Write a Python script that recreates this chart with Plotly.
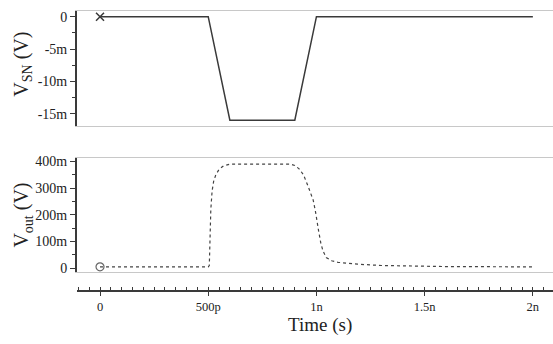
import plotly.graph_objects as go

W, H = 553, 344

# time in ns
t_sn = [0, 0.5, 0.6, 0.9, 1.0, 2.0]
v_sn = [0, 0, -16, -16, 0, 0]  # mV

t_out = [0, 0.5, 0.505, 0.508, 0.512, 0.518, 0.525, 0.535, 0.55, 0.57, 0.6,
         0.88, 0.90, 0.92, 0.94, 0.96, 0.975, 0.985, 0.995, 1.0, 1.01, 1.02,
         1.03, 1.045, 1.07, 1.1, 1.19, 1.3, 1.45, 1.6, 2.0]
v_out = [5, 5, 10, 100, 220, 290, 325, 350, 370, 383, 390,
         390, 385, 372, 350, 310, 275, 255, 215, 187, 140, 95,
         65, 40, 28, 22, 15, 10, 7, 6, 5]  # mV

x_tickvals = [0, 0.5, 1.0, 1.5, 2.0]
x_ticktext = ["0", "500p", "1n", "1.5n", "2n"]
y1_tickvals = [0, -5, -10, -15]
y1_ticktext = ["0", "-5m", "-10m", "-15m"]
y2_tickvals = [0, 100, 200, 300, 400]
y2_ticktext = ["0", "100m", "200m", "300m", "400m"]

FONT = "Liberation Serif"
DARK = "#3a3a3a"
LIGHT = "#c8c8c8"
TXT = "#222"

def py(p):
    return (H - p) / H

def px(p):
    return p / W

x0 = -0.1063
x1 = 2.093

fig = go.Figure()
fig.add_trace(go.Scatter(x=t_sn, y=v_sn, mode="lines",
                         line=dict(color=DARK, width=1.5),
                         xaxis="x", yaxis="y", showlegend=False))
fig.add_trace(go.Scatter(x=[t_sn[0]], y=[v_sn[0]], mode="markers",
                         marker=dict(symbol="x-thin-open", size=8, color=DARK,
                                     line=dict(color=DARK, width=1.5)),
                         xaxis="x", yaxis="y", showlegend=False))
fig.add_trace(go.Scatter(x=t_out, y=v_out, mode="lines",
                         line=dict(color="#444", width=1.2, dash="dot"),
                         xaxis="x2", yaxis="y2", showlegend=False))
fig.add_trace(go.Scatter(x=[t_out[0]], y=[v_out[0]], mode="markers",
                         marker=dict(symbol="circle-open", size=8, color="#666",
                                     line=dict(color="#666", width=1.2)),
                         xaxis="x2", yaxis="y2", showlegend=False))
# dummy for the free time axis
fig.add_trace(go.Scatter(x=[t_out[0]], y=[v_out[0]], mode="markers",
                         marker=dict(opacity=0), xaxis="x3", yaxis="y2",
                         showlegend=False, hoverinfo="skip"))

panel_x = dict(range=[x0, x1], showticklabels=False, ticks="",
               showgrid=False, zeroline=False, showline=True, mirror=True,
               linecolor=LIGHT, linewidth=1)
tfy = dict(family=FONT, size=14, color=TXT)
tfx = dict(family=FONT, size=12.5, color=TXT)
fig.update_layout(
    width=W, height=H,
    margin=dict(l=0, r=0, t=0, b=0),
    paper_bgcolor="white", plot_bgcolor="white",
    font=dict(family=FONT, size=14, color=TXT),
    xaxis=dict(domain=[px(77), 1], anchor="y", **panel_x),
    xaxis2=dict(domain=[px(77), 1], anchor="y2", **panel_x),
    xaxis3=dict(domain=[px(77), 1], anchor="free", overlaying="x2",
                position=py(294), side="bottom",
                range=[x0, x1], tickvals=x_tickvals, ticktext=x_ticktext,
                ticks="outside", ticklen=4, tickwidth=1, tickcolor=DARK,
                minor=dict(dtick=0.05, ticks="inside", ticklen=3,
                           tickcolor=DARK, tickwidth=1, showgrid=False),
                showline=True, linecolor=DARK, linewidth=2,
                showgrid=False, zeroline=False, tickfont=tfx),
    yaxis=dict(domain=[py(126), py(8)], anchor="x",
               range=[-16.97, 0.91], tickvals=y1_tickvals, ticktext=y1_ticktext,
               ticks="outside", ticklen=5, tickcolor=DARK,
               minor=dict(dtick=2.5, ticks="outside", ticklen=3,
                          tickcolor=DARK, showgrid=False),
               showline=True, linecolor=DARK, linewidth=2,
               showgrid=False, zeroline=False, tickfont=tfy),
    yaxis2=dict(domain=[py(275), py(158)], anchor="x2",
                range=[-15.8, 413.6], tickvals=y2_tickvals, ticktext=y2_ticktext,
                ticks="outside", ticklen=5, tickcolor=DARK,
                minor=dict(dtick=50, ticks="outside", ticklen=3,
                           tickcolor=DARK, showgrid=False),
                showline=True, linecolor=DARK, linewidth=2,
                showgrid=False, zeroline=False, tickfont=tfy),
    annotations=[
        dict(text="V<sub>SN</sub> (V)", x=px(23), y=py(63), xref="paper",
             yref="paper", textangle=-90, showarrow=False,
             xanchor="center", yanchor="middle",
             font=dict(family=FONT, size=20, color=TXT)),
        dict(text="V<sub>out</sub> (V)", x=px(23), y=py(217), xref="paper",
             yref="paper", textangle=-90, showarrow=False,
             xanchor="center", yanchor="middle",
             font=dict(family=FONT, size=20, color=TXT)),
        dict(text="Time (s)", x=px(320), y=py(329), xref="paper",
             yref="paper", showarrow=False,
             xanchor="center", yanchor="middle",
             font=dict(family=FONT, size=19, color=TXT)),
    ],
)

fig.write_html("out.html")
